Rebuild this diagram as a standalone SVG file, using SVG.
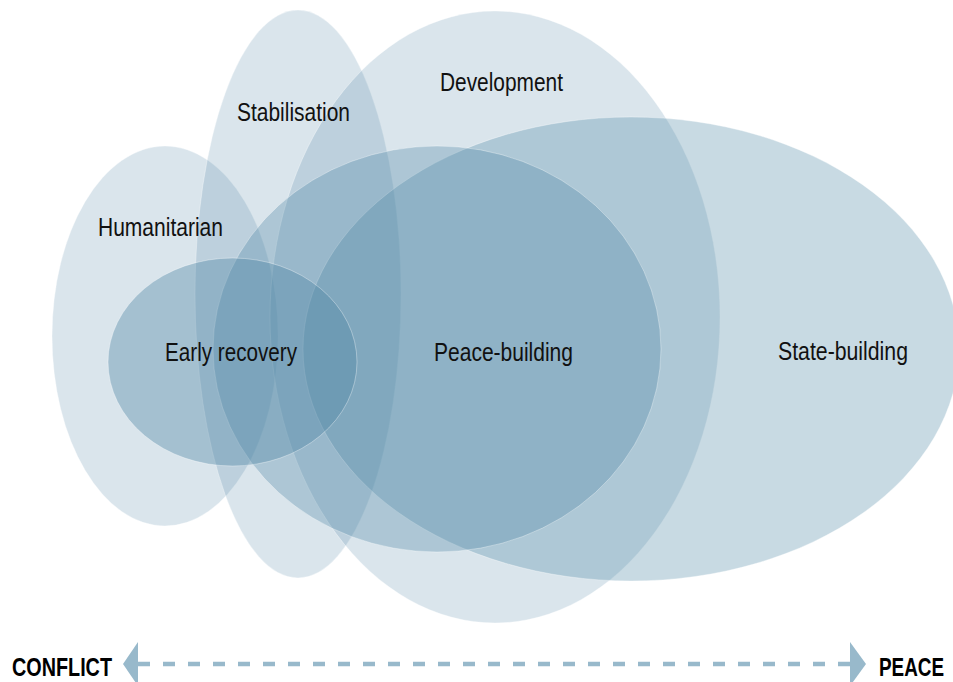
<svg xmlns="http://www.w3.org/2000/svg" width="953" height="682" viewBox="0 0 953 682">
<style>
.e{fill:#4f86a4;stroke:#ffffff;stroke-opacity:0.35;stroke-width:1}
.t{font-family:"Liberation Sans",Arial,sans-serif;font-size:25px;fill:#111}
.b{font-family:"Liberation Sans",Arial,sans-serif;font-size:25px;font-weight:bold;fill:#000}
.ar{fill:#98b9cb}
</style>
<rect width="953" height="682" fill="#ffffff"/>
<g id="humanitarian"><ellipse class="e" cx="165" cy="336" rx="113" ry="190" fill-opacity="0.21"/></g>
<g id="stabilisation"><ellipse class="e" cx="298" cy="294" rx="103" ry="284" fill-opacity="0.21"/></g>
<g id="development"><ellipse class="e" cx="495" cy="317" rx="225" ry="306" fill-opacity="0.21"/></g>
<g id="state-building"><ellipse class="e" cx="631" cy="349" rx="328" ry="232" fill-opacity="0.31"/></g>
<g id="peace-building"><ellipse class="e" cx="437" cy="349" rx="224" ry="203" fill-opacity="0.32"/></g>
<g id="early-recovery"><ellipse class="e" cx="232.5" cy="362" rx="124.5" ry="104" fill-opacity="0.39"/></g>
<g id="labels">
<text class="t" x="98" y="236" textLength="125" lengthAdjust="spacingAndGlyphs">Humanitarian</text>
<text class="t" x="237" y="121" textLength="113" lengthAdjust="spacingAndGlyphs">Stabilisation</text>
<text class="t" x="440" y="91" textLength="123" lengthAdjust="spacingAndGlyphs">Development</text>
<text class="t" x="165" y="361" textLength="132" lengthAdjust="spacingAndGlyphs">Early recovery</text>
<text class="t" x="434" y="361" textLength="139" lengthAdjust="spacingAndGlyphs">Peace-building</text>
<text class="t" x="778" y="360" textLength="130" lengthAdjust="spacingAndGlyphs">State-building</text>
</g>
<g id="connectors">
<line x1="138" y1="664" x2="850" y2="664" stroke="#98b9cb" stroke-width="4.3" stroke-dasharray="12 13"/>
<polygon class="ar" points="123,664 138,642 138,686"/>
<polygon class="ar" points="850,642 866,664 850,686"/>
</g>
<g id="axis-labels">
<text class="b" x="12" y="676" textLength="100" lengthAdjust="spacingAndGlyphs">CONFLICT</text>
<text class="b" x="879" y="676" textLength="65" lengthAdjust="spacingAndGlyphs">PEACE</text>
</g>
</svg>
